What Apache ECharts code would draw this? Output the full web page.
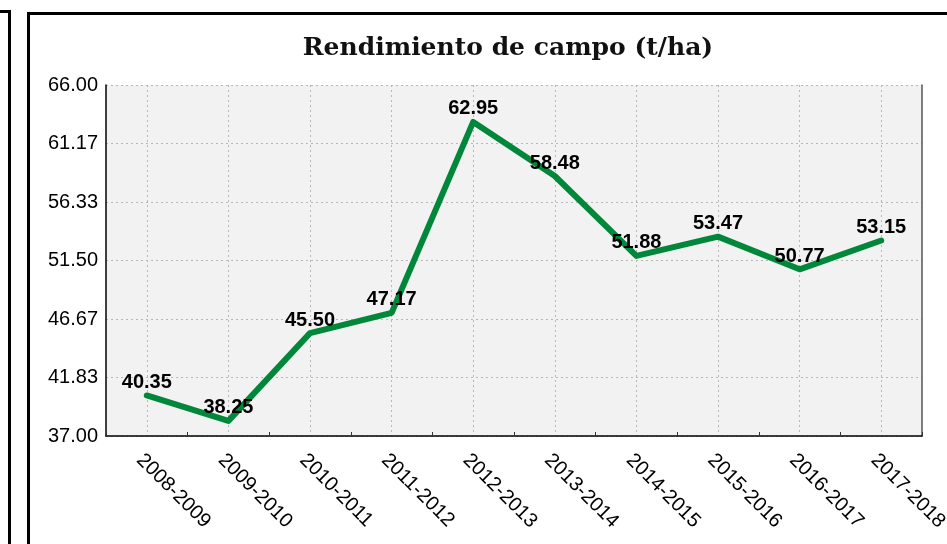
<!DOCTYPE html>
<html>
<head>
<meta charset="utf-8">
<script src="https://cdn.jsdelivr.net/npm/echarts@6/dist/echarts.min.js"></script>
<style>
  html, body { margin: 0; padding: 0; background: #fff; }
  #chart { width: 947px; height: 544px; }
</style>
</head>
<body>
<div id="chart"></div>
<script>
// periodos y rendimiento (t/ha)
const periodos = ["2008-2009", "2009-2010", "2010-2011", "2011-2012", "2012-2013",
  "2013-2014", "2014-2015", "2015-2016", "2016-2017", "2017-2018"];
const rendimiento = [40.35, 38.25, 45.50, 47.17, 62.95, 58.48, 51.88, 53.47, 50.77, 53.15];

const yMin = 37;
const yMax = 66;
const yPaso = (yMax - yMin) / 6;

const chart = echarts.init(document.getElementById("chart"));

const gridLine = { show: true, lineStyle: { color: "#b8b8b8", type: [2, 3], width: 1 } };

chart.setOption({
  animation: false,
  backgroundColor: "#fff",
  title: {
    text: "Rendimiento de campo (t/ha)",
    left: 503,
    textAlign: "center",
    top: 31,
    textStyle: { fontFamily: "DejaVu Serif", fontWeight: "bold", fontSize: 25, color: "#111" }
  },
  graphic: [
    // marcos alrededor del gráfico
    { type: "polyline", shape: { points: [[0, 11.5], [9.5, 11.5], [9.5, 560]] }, style: { stroke: "#000", lineWidth: 3, fill: null } },
    { type: "polyline", shape: { points: [[28.5, 560], [28.5, 13.5], [960, 13.5]] }, style: { stroke: "#000", lineWidth: 3, fill: null } }
  ],
  grid: {
    left: 106, right: 25, top: 85, bottom: 108,
    outerBoundsMode: "none",
    containLabel: false,
    show: true, backgroundColor: "#f2f2f2", borderWidth: 0
  },
  xAxis: {
    type: "category",
    data: periodos,
    boundaryGap: true,
    axisLine: { lineStyle: { color: "#000", width: 1.5 } },
    axisTick: { show: true, inside: true, length: 4, lineStyle: { color: "#333" } },
    axisLabel: {
      rotate: -45, fontSize: 20, color: "#000", fontFamily: "Liberation Sans",
      margin: 14, verticalAlign: "top"
    },
    splitLine: Object.assign({ alignWithLabel: true }, gridLine)
  },
  yAxis: [
    {
      type: "value",
      min: yMin, max: yMax, interval: yPaso,
      axisLine: { show: true, lineStyle: { color: "#000", width: 1.5 } },
      axisTick: { show: false },
      axisLabel: { fontSize: 20, color: "#000", fontFamily: "Liberation Sans", margin: 8, formatter: v => v.toFixed(2) },
      splitLine: gridLine
    },
    {
      type: "value",
      min: yMin, max: yMax, interval: yPaso,
      position: "right",
      axisLine: { show: true, lineStyle: { color: "#555", width: 1.5 } },
      axisTick: { show: false },
      axisLabel: { show: false },
      splitLine: { show: false }
    }
  ],
  series: [{
    type: "line",
    data: rendimiento,
    symbol: "circle",
    symbolSize: 2,
    showSymbol: true,
    showAllSymbol: true,
    itemStyle: { color: "#00873a", borderWidth: 0 },
    lineStyle: { color: "#00873a", width: 6, cap: "round", join: "round" },
    label: {
      show: true,
      position: "top",
      distance: 2,
      fontSize: 20,
      fontWeight: "bold",
      color: "#000",
      fontFamily: "Liberation Sans",
      formatter: p => p.value.toFixed(2)
    }
  }]
});
</script>
</body>
</html>
